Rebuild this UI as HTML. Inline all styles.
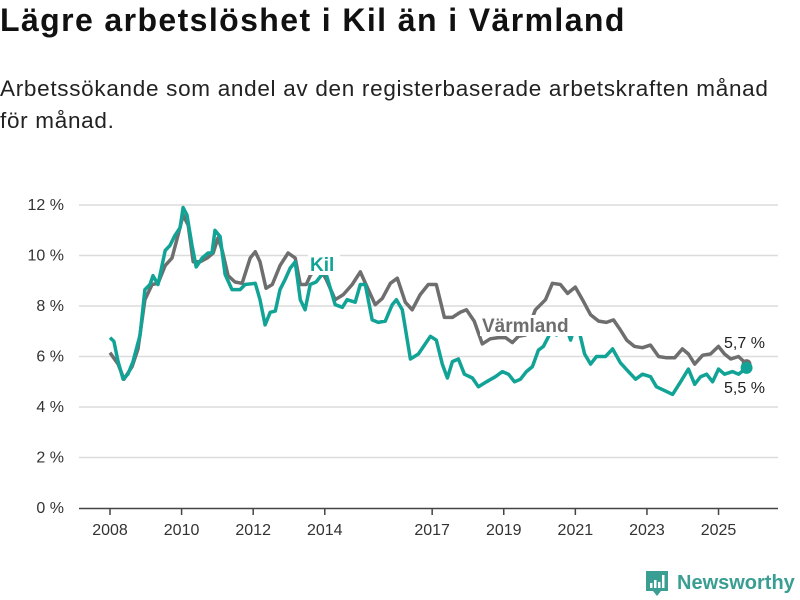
<!DOCTYPE html>
<html><head><meta charset="utf-8">
<style>
body{margin:0;background:#fff;width:800px;height:600px;overflow:hidden;font-family:"Liberation Sans",sans-serif}
h1{position:absolute;left:0;top:2px;margin:0;font-size:32px;letter-spacing:1.4px;font-weight:bold;color:#111;white-space:nowrap}
p{position:absolute;left:0;top:73px;margin:0;font-size:22.5px;letter-spacing:0.7px;line-height:32px;color:#222;width:788px}
svg{position:absolute;left:0;top:0}
</style></head><body>
<h1>Lägre arbetslöshet i Kil än i Värmland</h1>
<p>Arbetssökande som andel av den registerbaserade arbetskraften månad för månad.</p>
<svg id="chart" width="800" height="600"></svg>
<script>
const yTicks=[0,2,4,6,8,10,12];
const xTickYears=[2008,2010,2012,2014,2017,2019,2021,2023,2025];
const varmMonths=[0,2.7,4.7,7.4,9.4,11.7,14.1,16.1,18.5,20.8,22.8,24.5,26.2,27.9,30.2,32.6,34.6,36.2,37.6,39.6,41.9,44.3,47.0,48.7,50.3,52.3,54.4,57.0,59.7,62.1,63.8,65.8,67.1,69.8,72.5,75.5,78.2,81.2,83.9,86.6,88.9,91.3,94.0,96.3,99.0,101.3,104.0,106.7,109.4,112.1,114.8,117.4,119.5,122.1,124.8,127.5,130.2,132.6,134.9,136.9,139.3,142.6,146.0,148.3,151.0,153.4,156.0,158.4,161.1,163.8,166.4,168.8,171.1,173.2,175.8,178.5,181.2,183.9,186.6,189.3,191.9,193.9,196.0,198.7,201.3,204.0,206.0,208.1,210.7,213.4];
const varmValues=[6.15,5.7,5.1,5.6,6.3,8.25,8.85,8.9,9.6,9.9,10.8,11.6,11.2,9.75,9.75,9.9,10.1,10.7,10.2,9.2,8.95,8.9,9.9,10.15,9.75,8.7,8.85,9.6,10.1,9.9,8.85,8.85,9.2,9.6,9.05,8.25,8.45,8.85,9.35,8.65,8.05,8.3,8.9,9.1,8.15,7.85,8.45,8.85,8.85,7.55,7.55,7.75,7.85,7.4,6.5,6.7,6.75,6.75,6.55,6.8,6.85,7.85,8.25,8.9,8.85,8.5,8.75,8.25,7.65,7.4,7.35,7.45,7.05,6.65,6.4,6.35,6.45,6.0,5.95,5.95,6.3,6.1,5.7,6.05,6.1,6.4,6.1,5.9,6.0,5.7];
const kilMonths=[0,1.3,2.7,4.4,6.0,7.7,10.1,11.7,13.4,14.4,16.1,18.5,20.1,21.8,23.5,24.5,25.8,27.5,28.9,30.9,32.9,34.2,35.2,36.9,38.6,40.9,43.6,45.3,48.7,50.3,52.0,53.7,55.4,57.0,58.7,60.4,62.1,63.8,65.4,67.1,69.1,72.1,75.5,77.9,79.5,82.2,83.9,85.6,87.9,89.9,92.3,94.6,96.0,98.0,100.7,103.4,105.4,107.4,109.4,111.4,113.1,114.8,116.8,118.8,121.5,123.5,126.2,129.2,131.5,133.6,135.6,137.6,139.6,141.6,143.6,145.3,147.7,149.7,152.7,154.4,156.4,159.1,161.1,163.1,166.1,168.5,171.1,173.8,176.2,178.5,181.2,183.2,185.9,188.6,191.3,193.9,196.0,198.0,200.0,202.0,204.0,206.0,208.7,210.7,213.4];
const kilValues=[6.75,6.6,5.8,5.1,5.3,5.8,6.85,8.65,8.85,9.2,8.85,10.2,10.4,10.8,11.1,11.9,11.6,10.4,9.55,9.9,10.1,10.1,11.0,10.75,9.25,8.65,8.65,8.85,8.9,8.25,7.25,7.75,7.8,8.65,9.05,9.5,9.75,8.25,7.85,8.85,8.95,9.4,8.05,7.95,8.25,8.15,8.85,8.85,7.45,7.35,7.4,8.05,8.25,7.85,5.9,6.1,6.45,6.8,6.65,5.7,5.15,5.8,5.9,5.3,5.15,4.8,5.0,5.2,5.4,5.3,5.0,5.1,5.4,5.6,6.25,6.4,6.95,6.85,7.25,6.65,7.45,6.1,5.7,6.0,6.0,6.3,5.75,5.4,5.1,5.3,5.2,4.8,4.65,4.5,5.0,5.5,4.9,5.2,5.3,5.0,5.5,5.3,5.4,5.3,5.55];
const varmLast="5,7 %", kilLast="5,5 %";

const NS="http://www.w3.org/2000/svg";
const svg=document.getElementById('chart');
const X=m=>110+m*2.983;
const Y=v=>508-v*25.25;
function mk(tag,attrs,parent){const e=document.createElementNS(NS,tag);for(const k in attrs)e.setAttribute(k,attrs[k]);(parent||svg).appendChild(e);return e;}
yTicks.forEach(t=>{
  if(t>0){const g=mk('line',{x1:79,x2:778,y1:Y(t),y2:Y(t),stroke:'#dcdcdc','stroke-width':1.5});
  
  }
  const l=mk('text',{x:64,y:Y(t)+5,'text-anchor':'end','font-size':16,fill:'#333','font-family':'Liberation Sans, sans-serif'});
  l.textContent=t+' %';
  
  
});
const ax=mk('line',{x1:79,x2:778,y1:508.5,y2:508.5,stroke:'#444','stroke-width':1.5});


xTickYears.forEach(yr=>{
  const x=X((yr-2008)*12);
  const tk=mk('line',{x1:x,x2:x,y1:509,y2:515,stroke:'#444','stroke-width':1.5});
  
  
  const l=mk('text',{x:x,y:535,'text-anchor':'middle','font-size':16,fill:'#333','font-family':'Liberation Sans, sans-serif'});
  l.textContent=yr;
  
  
});
function path(ms,vs){return ms.map((m,i)=>(i?'L':'M')+X(m).toFixed(1)+','+Y(vs[i]).toFixed(1)).join('');}
const pv=mk('path',{d:path(varmMonths,varmValues),fill:'none',stroke:'#6e6e6e','stroke-width':3.5,'stroke-linejoin':'round'});


const pk=mk('path',{d:path(kilMonths,kilValues),fill:'none',stroke:'#12a397','stroke-width':3.5,'stroke-linejoin':'round'});


function label(txt,x,y,col,name,w){
  const r=mk('rect',{x:x-2,y:y-17,width:w,height:21,fill:'#fff'});
  
  
  const t=mk('text',{x:x,y:y,'font-size':19,'font-weight':'bold',fill:col,'font-family':'Liberation Sans, sans-serif'});
  t.textContent=txt;
  
  
}
label('Kil',310,271,'#12a397','kil-label',32);
label('Värmland',482,332,'#6e6e6e','varmland-label',104);
const lv=varmMonths.length-1, lk=kilMonths.length-1;
const dv=mk('circle',{cx:X(varmMonths[lv]),cy:Y(varmValues[lv]),r:5,fill:'#6e6e6e'});


const dk=mk('circle',{cx:X(kilMonths[lk]),cy:Y(kilValues[lk]),r:6,fill:'#12a397'});


const ev=mk('text',{x:724,y:348,'font-size':16,fill:'#222','font-family':'Liberation Sans, sans-serif'});
ev.textContent=varmLast;


const ek=mk('text',{x:724,y:393,'font-size':16,fill:'#222','font-family':'Liberation Sans, sans-serif'});
ek.textContent=kilLast;


</script>
<svg width="800" height="600" style="pointer-events:none">
  <path d="M646 571h22v20h-7l-4 5-4-5h-7z" fill="#3a9e93"/>
  <rect x="650" y="583" width="2.5" height="5" fill="#fff"/><rect x="654" y="580" width="2.5" height="8" fill="#fff"/><rect x="658" y="582" width="2.5" height="6" fill="#fff"/><rect x="662" y="575" width="2.5" height="13" fill="#fff"/>
  <text x="677" y="589" font-size="20" font-weight="bold" fill="#3a9e93" font-family="Liberation Sans, sans-serif">Newsworthy</text>
</svg>
</body></html>
